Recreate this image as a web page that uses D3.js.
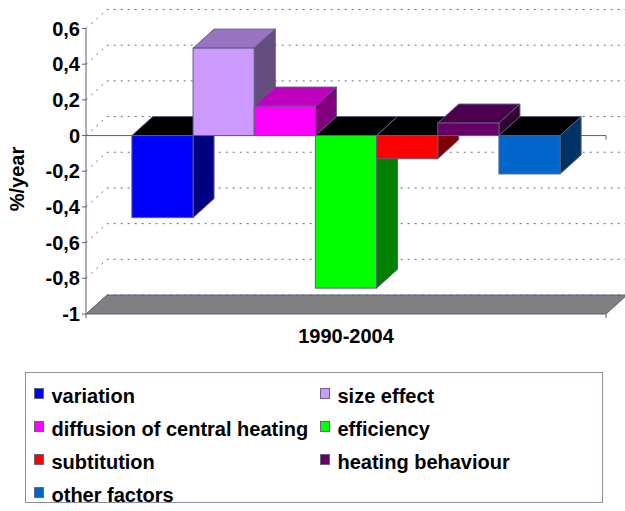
<!DOCTYPE html>
<html><head><meta charset="utf-8">
<script src="https://cdn.jsdelivr.net/npm/d3@7"></script>
<style>
body{margin:0;background:#fff}
svg{display:block}
text{font-family:"Liberation Sans",Arial,sans-serif;font-weight:bold;fill:#000}
</style>
</head><body><svg id="c" width="625" height="511"></svg>
<script>
// ---- data ----
const series = ["variation","size effect","diffusion of central heating","efficiency","subtitution","heating behaviour","other factors"];
const values = [-0.46, 0.49, 0.165, -0.855, -0.13, 0.07, -0.215];
const colors = ["#0000FF","#CC99FF","#FF00FF","#00FF00","#FF0000","#660066","#0066CC"];
const categories = ["1990-2004"];
const yTicks = [-1, -0.8, -0.6, -0.4, -0.2, 0, 0.2, 0.4, 0.6];
const yTitle = "%/year";

// ---- layout ----
const svg = d3.select("#c");
const left = 86, right = 606, dx = 21, dy = -19;
const edge = "#5c5c80";
const y = d3.scaleLinear().domain([-1, 0.6]).range([314, 28.5]);
const xCat = d3.scaleBand().domain(categories).range([left, right]);
const x = d3.scaleBand().domain(series).range([left, right]).paddingInner(0).paddingOuter(0.75);
const bw = x.bandwidth();
const loc = d3.formatLocale({decimal: ",", thousands: ".", grouping: [3], currency: ["", ""], minus: "-"});
const fmt = loc.format(".1~f");

const poly = pts => "M" + pts.map(p => p.join(",")).join("L") + "Z";

// floor
const yf = y(-1);
svg.append("path")
  .attr("d", poly([[left, yf], [right, yf], [right + dx, yf + dy], [left + dx, yf + dy]]))
  .attr("fill", "#808080").attr("stroke", edge).attr("stroke-width", 1);

// gridlines (left wall + back wall)
svg.append("g").selectAll("path").data(yTicks).join("path")
  .attr("d", t => `M${left},${y(t)}L${left + dx},${y(t) + dy}L${right + dx},${y(t) + dy}`)
  .attr("fill", "none").attr("stroke", "#6a6a8a").attr("stroke-width", 1)
  .attr("stroke-dasharray", "2,5");

// y axis
svg.append("line").attr("x1", left).attr("x2", left).attr("y1", y(0.6)).attr("y2", y(-1))
  .attr("stroke", edge).attr("stroke-width", 1);
svg.append("g").selectAll("line").data(yTicks).join("line")
  .attr("x1", left - 4).attr("x2", left).attr("y1", d => y(d)).attr("y2", d => y(d))
  .attr("stroke", edge);
svg.append("g").selectAll("text").data(yTicks).join("text")
  .attr("x", left - 6).attr("y", d => y(d) + 7).attr("text-anchor", "end")
  .style("font-size", "20px").text(d => fmt(d));

// zero front line + category ticks
svg.append("line").attr("x1", left).attr("x2", right).attr("y1", y(0)).attr("y2", y(0)).attr("stroke", edge);
svg.append("line").attr("x1", right).attr("x2", right).attr("y1", y(0)).attr("y2", y(0) + 4).attr("stroke", edge);
svg.append("line").attr("x1", right).attr("x2", right).attr("y1", yf).attr("y2", yf + 4).attr("stroke", edge);
svg.append("line").attr("x1", left).attr("x2", left).attr("y1", yf).attr("y2", yf + 4).attr("stroke", edge);

// bars
const y0 = y(0);
series.forEach((s, i) => {
  const v = values[i];
  const c = d3.rgb(colors[i]);
  const x0 = x(s), x1 = x0 + bw;
  const yt = Math.min(y(v), y0), yb = Math.max(y(v), y0);
  const top = v >= 0 ? d3.rgb(c.r * 0.75, c.g * 0.75, c.b * 0.75) : d3.rgb(0, 0, 0);
  const side = d3.rgb(c.r * 0.5, c.g * 0.5, c.b * 0.5);
  const g = svg.append("g");
  g.append("path").attr("d", poly([[x0, yt], [x1, yt], [x1 + dx, yt + dy], [x0 + dx, yt + dy]]))
    .attr("fill", top).attr("stroke", edge);
  g.append("path").attr("d", poly([[x1, yt], [x1 + dx, yt + dy], [x1 + dx, yb + dy], [x1, yb]]))
    .attr("fill", side).attr("stroke", edge);
  g.append("rect").attr("x", x0).attr("y", yt).attr("width", bw).attr("height", yb - yt)
    .attr("fill", c).attr("stroke", edge);
});

// category label
svg.append("g").selectAll("text").data(categories).join("text")
  .attr("x", d => xCat(d) + xCat.bandwidth() / 2).attr("y", 343)
  .attr("text-anchor", "middle").style("font-size", "20px").text(d => d);

// y title
svg.append("text").attr("transform", "translate(24,179) rotate(-90)")
  .attr("text-anchor", "middle").style("font-size", "20px").text(yTitle);

// legend
const lg = svg.append("g");
lg.append("rect").attr("x", 25.5).attr("y", 372.5).attr("width", 577).attr("height", 130)
  .attr("fill", "#fff").attr("stroke", "#8c8ca0");
const items = lg.selectAll("g").data(series).join("g")
  .attr("transform", (d, i) => `translate(${i % 2 ? 320.5 : 34.5},${388.5 + Math.floor(i / 2) * 33})`);
items.append("rect").attr("width", 9).attr("height", 10)
  .attr("fill", (d, i) => colors[i]).attr("stroke", "#666680");
items.append("text").attr("x", 17).attr("y", 14.5).style("font-size", "20px").text(d => d);
</script>
</body></html>
